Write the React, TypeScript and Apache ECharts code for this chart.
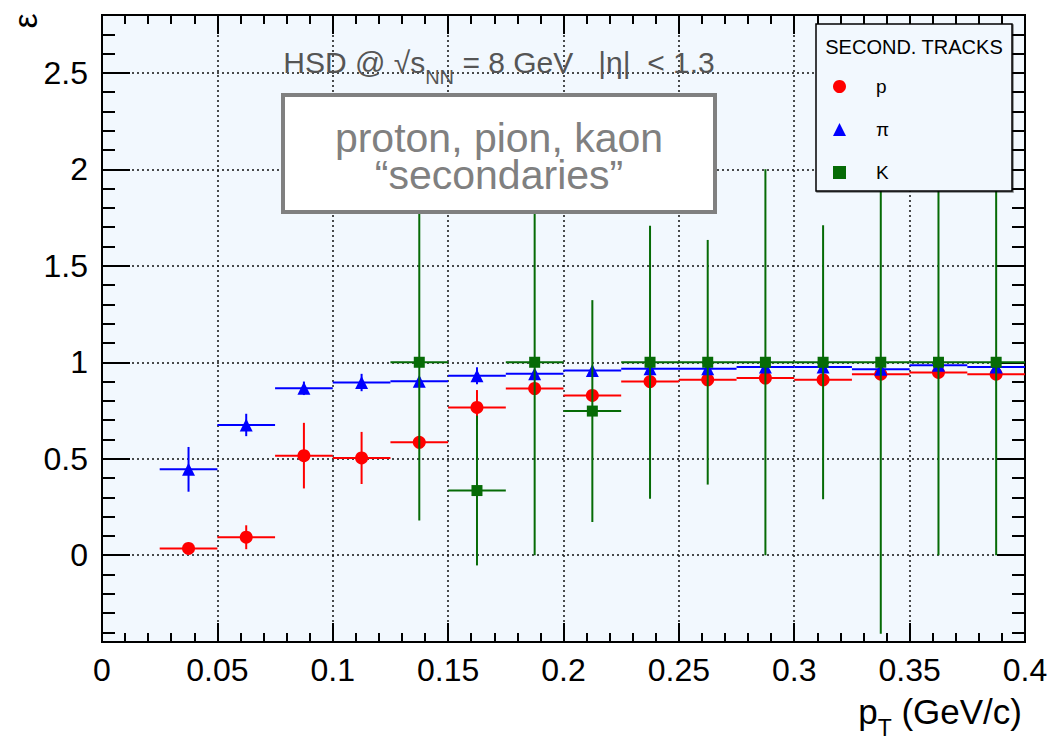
import React, { useEffect, useRef } from 'react';
import * as echarts from 'echarts';

// ---- data ----
const binHalfWidth = 0.0125;
const ptCenters = [0.0375, 0.0625, 0.0875, 0.1125, 0.1375, 0.1625, 0.1875, 0.2125, 0.2375, 0.2625, 0.2875, 0.3125, 0.3375, 0.3625, 0.3875];
const protonEff = [0.035, 0.093, 0.516, 0.504, 0.585, 0.766, 0.864, 0.828, 0.9, 0.909, 0.918, 0.909, 0.938, 0.947, 0.938];
const protonErr = [0.01, 0.062, 0.17, 0.135, 0.03, 0.09, 0.02, 0.02, 0.01, 0.01, 0.01, 0.01, 0.01, 0.01, 0.01];
const pionEff = [0.445, 0.675, 0.865, 0.895, 0.902, 0.93, 0.94, 0.957, 0.966, 0.966, 0.975, 0.975, 0.964, 0.985, 0.975];
const pionErr = [0.116, 0.058, 0.035, 0.045, 0.02, 0.044, 0.02, 0.02, 0.01, 0.01, 0.01, 0.01, 0.01, 0.01, 0.01];
const kaonPt = [0.1375, 0.1625, 0.1875, 0.2125, 0.2375, 0.2625, 0.2875, 0.3125, 0.3375, 0.3625, 0.3875];
const kaonEff = [1, 0.335, 1, 0.747, 1, 1, 1, 1, 1, 1, 1];
const kaonErr = [0.82, 0.388, 1.0, 0.575, 0.708, 0.634, 1.0, 0.71, 1.407, 1.0, 1.0];

const xTickInterval = 0.05;
const yMin = -0.45;
const yMax = 2.8;

const FONT = "'Liberation Sans', Arial, Helvetica, sans-serif";
const RED = '#ff0000';
const BLUE = '#0000ff';
const GREEN = '#066b06';

function errorBars(name: string, xs: number[], ys: number[], es: number[], color: string, z: number) {
  return {
    type: 'custom',
    name,
    z,
    silent: true,
    encode: { x: 0, y: 1 },
    data: xs.map((x, i) => [x, ys[i], es[i]]),
    renderItem: (_params: any, api: any) => {
      const x = api.value(0);
      const y = api.value(1);
      const e = api.value(2);
      const l = api.coord([x - binHalfWidth, y]);
      const r = api.coord([x + binHalfWidth, y]);
      const t = api.coord([x, y + e]);
      const b = api.coord([x, y - e]);
      return {
        type: 'group',
        children: [
          { type: 'line', shape: { x1: l[0], y1: l[1], x2: r[0], y2: r[1] }, style: { stroke: color, lineWidth: 2 } },
          { type: 'line', shape: { x1: t[0], y1: t[1], x2: b[0], y2: b[1] }, style: { stroke: color, lineWidth: 2 } },
        ],
      };
    },
  };
}

function markers(name: string, xs: number[], ys: number[], color: string, symbol: string, size: number, z: number) {
  return {
    type: 'scatter',
    name,
    z,
    symbol,
    symbolSize: size,
    itemStyle: { color, opacity: 1 },
    data: xs.map((x, i) => [x, ys[i]]),
  };
}

function xAxisDef(position: 'bottom' | 'top', labels: boolean) {
  return {
    type: 'value',
    position,
    min: 0,
    max: 0.4,
    interval: xTickInterval,
    axisLine: { show: false, onZero: false },
    axisTick: { show: true, inside: true, length: 19, lineStyle: { color: '#000', width: 2 } },
    minorTick: { show: true, splitNumber: 5, length: 9, lineStyle: { color: '#000', width: 2 } },
    axisLabel: labels
      ? { show: true, fontSize: 32, color: '#000', fontFamily: FONT, margin: 12 }
      : { show: false },
    splitLine: labels
      ? { show: true, showMinLine: false, showMaxLine: false, lineStyle: { color: '#111', width: 1.5, type: [2, 3] } }
      : { show: false },
  };
}

function yAxisDef(position: 'left' | 'right', labels: boolean) {
  return {
    type: 'value',
    position,
    min: yMin,
    max: yMax,
    splitNumber: 5,
    axisLine: { show: false, onZero: false },
    axisTick: { show: true, inside: true, length: 28, lineStyle: { color: '#000', width: 2 } },
    minorTick: { show: true, splitNumber: 5, length: 13, lineStyle: { color: '#000', width: 2 } },
    axisLabel: labels
      ? { show: true, fontSize: 32, color: '#000', fontFamily: FONT, margin: 14, showMinLabel: false, showMaxLabel: false }
      : { show: false },
    splitLine: labels
      ? { show: true, showMinLine: false, showMaxLine: false, lineStyle: { color: '#111', width: 1.5, type: [2, 3] } }
      : { show: false },
  };
}

export default function App() {
  const ref = useRef<HTMLDivElement>(null);
  useEffect(() => {
    document.body.style.margin = '0';
    const chart = echarts.init(ref.current!, undefined, { renderer: 'svg' });
    const option: any = {
      animation: false,
      backgroundColor: '#ffffff',
      textStyle: { fontFamily: FONT },
      grid: {
        left: 102, right: 31, top: 15, bottom: 98,
        show: true, backgroundColor: '#f2f8fe', borderColor: '#000', borderWidth: 2,
      },
      xAxis: [xAxisDef('bottom', true), xAxisDef('top', false)],
      yAxis: [yAxisDef('left', true), yAxisDef('right', false)],
      legend: {
        show: true,
        orient: 'vertical',
        left: 833,
        top: 77,
        padding: 0,
        itemWidth: 13,
        itemHeight: 13,
        itemGap: 24,
        z: 60,
        data: [
          { name: 'p', icon: 'circle' },
          { name: 'π', icon: 'triangle' },
          { name: 'K', icon: 'rect' },
        ],
        textStyle: { fontSize: 19, color: '#000', fontFamily: FONT, padding: [0, 0, 0, 25] },
        selectedMode: false,
      },
      series: [
        errorBars('p err', ptCenters, protonEff, protonErr, RED, 2),
        markers('p', ptCenters, protonEff, RED, 'circle', 13, 3),
        errorBars('π err', ptCenters, pionEff, pionErr, BLUE, 4),
        markers('π', ptCenters, pionEff, BLUE, 'triangle', 13, 5),
        errorBars('K err', kaonPt, kaonEff, kaonErr, GREEN, 6),
        markers('K', kaonPt, kaonEff, GREEN, 'rect', 11, 7),
      ],
      graphic: [
        // label box
        {
          type: 'rect', z: 50,
          shape: { x: 283, y: 95, width: 432, height: 117 },
          style: { fill: '#ffffff', stroke: '#808080', lineWidth: 4 },
        },
        {
          type: 'text', z: 51, x: 499, y: 156,
          style: {
            text: 'proton, pion, kaon\n\u201Csecondaries\u201D',
            fill: '#808080', fontSize: 41, lineHeight: 37, fontFamily: FONT,
            align: 'center', verticalAlign: 'middle',
          },
        },
        // header text
        {
          type: 'text', z: 51, x: 499, y: 62,
          style: {
            text: '{n|HSD @ \u221As}{s|NN}{n| = 8 GeV   |\u03B7|  < 1.3}',
            align: 'center', verticalAlign: 'middle',
            rich: {
              n: { fontSize: 30, fontFamily: FONT, fill: '#555555', lineHeight: 30 },
              s: { fontSize: 20, fontFamily: FONT, fill: '#555555', lineHeight: 20, padding: [30, 0, 0, 0] },
            },
          },
        },
        // legend box
        {
          type: 'rect', z: 55,
          shape: { x: 816, y: 24, width: 196, height: 167 },
          style: { fill: '#f2f8fe', stroke: '#000', lineWidth: 1.5, shadowColor: 'rgba(0,0,0,0.5)', shadowOffsetX: 1, shadowOffsetY: 1, shadowBlur: 1 },
        },
        {
          type: 'text', z: 56, x: 914, y: 47,
          style: { text: 'SECOND. TRACKS', fill: '#000', fontSize: 20, fontFamily: FONT, align: 'center', verticalAlign: 'middle' },
        },
        // y axis title (rotated, reads bottom to top)
        {
          type: 'group', x: 25, y: 21, rotation: Math.PI / 2, z: 51,
          children: [
            {
              type: 'text', z: 51, x: 0, y: 0,
              style: { text: '\u03B5', fill: '#000', fontSize: 34, fontFamily: FONT, align: 'center', verticalAlign: 'middle' },
            },
          ],
        },
        // x axis title
        {
          type: 'text', z: 51, x: 1022, y: 711,
          style: {
            text: '{n|p}{s|T}{n| (GeV/c)}',
            align: 'right', verticalAlign: 'middle',
            rich: {
              n: { fontSize: 35, fontFamily: FONT, fill: '#000', lineHeight: 36 },
              s: { fontSize: 23, fontFamily: FONT, fill: '#000', lineHeight: 23, padding: [34, 0, 0, 0] },
            },
          },
        },
      ],
    };
    chart.setOption(option);
    return () => chart.dispose();
  }, []);
  return <div ref={ref} style={{ position: 'fixed', left: 0, top: 0, width: 1056, height: 740 }} />;
}
